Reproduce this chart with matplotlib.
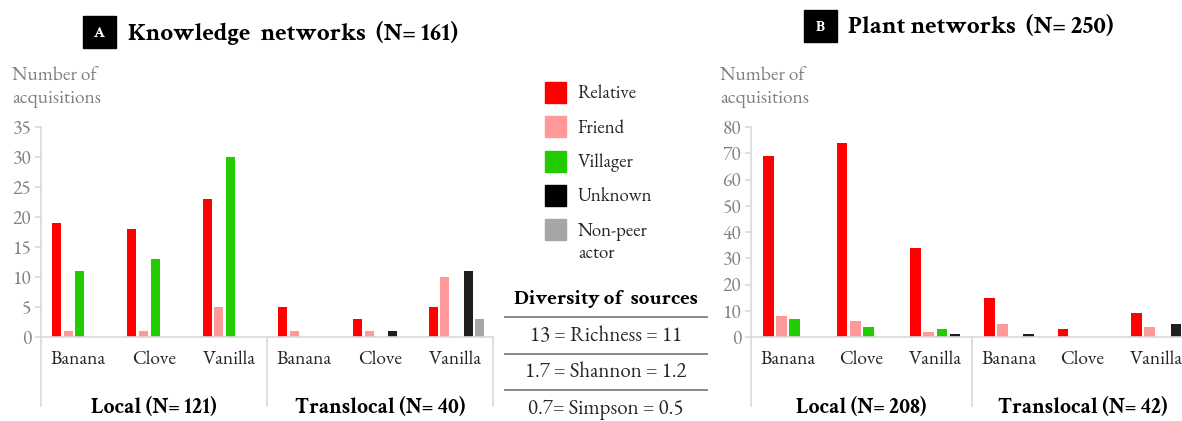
import numpy as np
import matplotlib.pyplot as plt
from matplotlib.patches import Rectangle
from matplotlib.transforms import blended_transform_factory

plt.rcParams['font.family'] = ['EB Garamond', 'DejaVu Serif']
BOLD = ['Crimson Text', 'DejaVu Serif']

crops = ['Banana', 'Clove', 'Vanilla', 'Banana', 'Clove', 'Vanilla']
sources = ['Relative', 'Friend', 'Villager', 'Unknown', 'Non-peer\nactor']
colors = ['#FF0000', '#FF9999', '#22CC00', '#1E1E1E', '#A6A6A6']

# knowledge networks: one list per source, cols = crops (local x3, translocal x3)
know_relative = [19, 18, 23, 5, 3, 5]
know_friend = [1, 1, 5, 1, 1, 10]
know_villager = [11, 13, 30, 0, 0, 0]
know_unknown = [0, 0, 0, 0, 1, 11]
know_nonpeer = [0, 0, 0, 0, 0, 3]

# plant networks (no non-peer actors)
plant_relative = [69, 74, 34, 15, 3, 9]
plant_friend = [8, 6, 2, 5, 0, 4]
plant_villager = [7, 4, 3, 0, 0, 0]
plant_unknown = [0, 0, 1, 1, 0, 5]

know_groups = ['Local (N= 121)', 'Translocal (N= 40)']
plant_groups = ['Local (N= 208)', 'Translocal (N= 42)']

diversity_rows = ['13 = Richness = 11', '1.7 = Shannon = 1.2', '0.7= Simpson = 0.5']

W, H = 1182, 421
fig = plt.figure(figsize=(W / 100, H / 100), dpi=100)


def px_axes(left, top, width, height):
    return fig.add_axes([left / W, 1 - (top + height) / H, width / W, height / H])


def draw_panel(ax, series, ymax, ystep, groups, first, step, bw):
    ax.set_xlim(0, 6)
    ax.set_ylim(0, ymax)
    x = np.arange(6)
    for k, (vals, c) in enumerate(zip(series, colors)):
        vals = np.array(vals)
        mask = vals > 0
        ax.bar(x[mask] + first + step * k, vals[mask], width=bw, color=c,
               linewidth=0)
    for s in ['top', 'right']:
        ax.spines[s].set_visible(False)
    for s in ['left', 'bottom']:
        ax.spines[s].set_color('#D9D9D9')
        ax.spines[s].set_linewidth(1.2)
    ax.set_yticks(np.arange(0, ymax + 1, ystep))
    ax.tick_params(axis='y', colors='#D9D9D9', labelcolor='#808080',
                   labelsize=14, length=4, width=1.2, pad=3)
    ax.set_xticks([])
    tr = blended_transform_factory(ax.transData, ax.transAxes)
    # vertical separators below the axis
    for xs in [0, 3, 6]:
        ax.plot([xs, xs], [0, -0.33], transform=tr, color='#D9D9D9',
                lw=1.2, clip_on=False)
    for i, name in enumerate(crops):
        ax.text(i + 0.5, -0.11, name, transform=tr, ha='center', va='center',
                fontsize=14, color='#262626')
    for g, name in enumerate(groups):
        ax.text(1.5 + 3 * g, -0.335, name, transform=tr, ha='center',
                va='center', fontsize=15.5, fontweight='bold', color='black',
                family=BOLD)


ax_a = px_axes(41, 127, 452, 210)
draw_panel(ax_a, [know_relative, know_friend, know_villager, know_unknown, know_nonpeer],
           35, 5, know_groups, 0.206, 0.155, 0.12)
ax_b = px_axes(751, 127, 442, 210)
draw_panel(ax_b, [plant_relative, plant_friend, plant_villager, plant_unknown],
           80, 10, plant_groups, 0.236, 0.178, 0.145)

# overlay in pixel coordinates for titles, legend and the diversity table
ov = fig.add_axes([0, 0, 1, 1], zorder=-1)
ov.set_xlim(0, W)
ov.set_ylim(H, 0)
ov.axis('off')

for letter, bx, by, title, tx in [('A', 83, 16, 'Knowledge  networks  (N= 161)', 128),
                                  ('B', 804, 10, 'Plant networks  (N= 250)', 848)]:
    ov.add_patch(Rectangle((bx, by), 33, 32, color='black'))
    ov.text(bx + 16.5, by + 17, letter, color='white', fontsize=11,
            fontweight='bold', ha='center', va='center', family=BOLD)
    ov.text(tx, by + 17, title, fontsize=18, fontweight='bold',
            ha='left', va='center', family=BOLD)

for x0 in [12, 720]:
    ov.text(x0, 75, 'Number of', fontsize=14, color='#808080', va='center')
    ov.text(x0, 99, 'acquisitions', fontsize=14, color='#808080', va='center')

# legend
for k, (name, c) in enumerate(zip(sources, colors)):
    y = 82 + 34.3 * k
    ov.add_patch(Rectangle((545, y), 21, 21, color='black' if k == 3 else c))
    if '\n' in name:
        top_line, bottom_line = name.split('\n')
        ov.text(578, y + 12, top_line, fontsize=13.5, color='#262626', va='center')
        ov.text(578, y + 34, bottom_line, fontsize=13.5, color='#262626', va='center')
    else:
        ov.text(578, y + 12, name, fontsize=13.5, color='#262626', va='center')

# diversity table
ov.text(606, 299, 'Diversity of  sources', fontsize=15, fontweight='bold',
        ha='center', va='center', family=BOLD)
for k, row in enumerate(diversity_rows):
    yl = 317 + 36.5 * k
    ov.plot([505, 707], [yl, yl], color='#7F7F7F', lw=1.3)
    ov.text(606, yl + 19, row, fontsize=15, ha='center', va='center',
            color='#262626')

fig.savefig('out.png', dpi=100)
